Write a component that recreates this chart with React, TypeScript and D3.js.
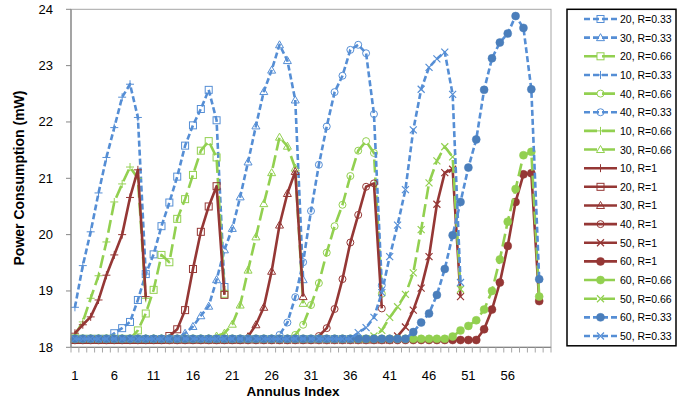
import React, { useEffect, useRef } from "react";
import * as d3 from "d3";

// x categories and axis ticks
const indices = d3.range(1, 62);
const xTickLabels = [1, 6, 11, 16, 21, 26, 31, 36, 41, 46, 51, 56];
const yTicks = [18, 19, 20, 21, 22, 23, 24];

// baseline level (flat part of every curve before its wave)
const base = 18.15;
const baseR1 = 18.13;

// each wave: first index and the values
const b20 = [18.25, 18.34, 18.45, 18.84, 19.3, 19.65, 20.15, 20.57, 21.03, 21.58, 21.94, 22.23, 22.57, 22.03, 19.07];
const b30 = [18.25, 18.37, 18.56, 18.73, 19.2, 19.73, 20.11, 20.67, 21.29, 21.93, 22.54, 22.92, 23.37, 23.09, 22.39, 19.2];
const g20 = [18.3, 18.6, 19.02, 19.64, 19.51, 20.28, 20.63, 21.06, 21.49, 21.66, 21.37, 18.95];
const b10 = [18.71, 19.45, 20.05, 20.74, 21.37, 21.9, 22.44, 22.67, 22.08, 19.3];
const g40 = [18.22, 18.4, 18.75, 19.14, 19.68, 20.15, 20.53, 21.04, 21.49, 21.66, 21.45, 18.95];
const b40 = [18.22, 18.44, 18.89, 19.51, 20.42, 21.24, 21.92, 22.53, 22.82, 23.28, 23.37, 23.22, 22.14, 19.1];
const g10 = [18.22, 18.45, 18.87, 19.27, 19.87, 20.58, 20.9, 21.2, 21.0, 18.87];
const g30 = [18.2, 18.25, 18.41, 18.75, 19.37, 19.96, 20.55, 21.1, 21.73, 21.57, 21.18, 18.78];
const r10 = [18.25, 18.4, 18.54, 18.84, 19.28, 19.64, 20.0, 20.66, 21.15, 18.9];
const r20 = [18.2, 18.32, 18.66, 19.39, 20.05, 20.5, 20.86, 18.93];
const r30 = [18.19, 18.4, 18.71, 19.35, 20.17, 20.73, 21.12, 18.9];
const r40 = [18.2, 18.34, 18.68, 19.21, 19.86, 20.35, 20.85, 20.91, 18.69];
const r50 = [18.2, 18.36, 18.66, 19.05, 19.61, 20.54, 21.1, 21.16, 18.9];
const r60 = [18.32, 18.67, 19.15, 19.8, 20.58, 21.07, 21.09, 18.82];
const g60 = [18.19, 18.3, 18.38, 18.48, 18.67, 19.0, 19.56, 20.23, 20.81, 21.41, 21.47, 18.9];
const g50 = [18.2, 18.3, 18.53, 18.72, 18.94, 19.32, 20.09, 20.92, 21.31, 21.56, 21.38, 19.03];
const b60 = [18.27, 18.44, 18.6, 18.93, 19.39, 19.99, 20.58, 21.19, 21.69, 22.57, 23.13, 23.41, 23.57, 23.88, 23.67, 22.58, 19.21];
const b50 = [18.26, 18.35, 18.53, 18.97, 19.61, 20.17, 20.8, 21.86, 22.58, 22.97, 23.12, 23.24, 22.49, 19.15];

const BLUE = "#558ED5";
const BLUE_FILL = "#4A7EBB";
const GREEN = "#92D050";
const RED = "#953735";

const styles = {
  "0.33": { color: BLUE, dash: "6,3" },
  "0.66": { color: GREEN, dash: "13,5" },
  "1": { color: RED, dash: null },
};

const series = [
  { name: "20, R=0.33", r: "0.33", marker: "square", start: 6, values: b20 },
  { name: "30, R=0.33", r: "0.33", marker: "triangle", start: 15, values: b30 },
  { name: "20, R=0.66", r: "0.66", marker: "square", start: 9, values: g20 },
  { name: "10, R=0.33", r: "0.33", marker: "plus", start: 1, values: b10 },
  { name: "40, R=0.66", r: "0.66", marker: "circle", start: 29, values: g40 },
  { name: "40, R=0.33", r: "0.33", marker: "circle", start: 27, values: b40 },
  { name: "10, R=0.66", r: "0.66", marker: "plus", start: 1, values: g10 },
  { name: "30, R=0.66", r: "0.66", marker: "triangle", start: 19, values: g30 },
  { name: "10, R=1", r: "1", marker: "plus", start: 1, values: r10 },
  { name: "20, R=1", r: "1", marker: "square", start: 13, values: r20 },
  { name: "30, R=1", r: "1", marker: "triangle", start: 23, values: r30 },
  { name: "40, R=1", r: "1", marker: "circle", start: 32, values: r40 },
  { name: "50, R=1", r: "1", marker: "cross", start: 42, values: r50 },
  { name: "60, R=1", r: "1", marker: "dot", start: 53, values: r60 },
  { name: "60, R=0.66", r: "0.66", marker: "dot", start: 49, values: g60 },
  { name: "50, R=0.66", r: "0.66", marker: "cross", start: 39, values: g50 },
  { name: "60, R=0.33", r: "0.33", marker: "dot", start: 44, values: b60 },
  { name: "50, R=0.33", r: "0.33", marker: "cross", start: 37, values: b50 },
];

// series from index 1: flat baseline, then the wave, ending at the drop
function fullSeries(s) {
  const flat = s.r === "1" ? baseR1 : base;
  const last = s.start + s.values.length - 1;
  return d3.range(1, last + 1).map((i) => {
    const k = i - s.start;
    return { i, v: k >= 0 ? s.values[k] : flat };
  });
}

function drawMarker(g, type, cx, cy, color) {
  const fill = type === "dot" ? (color === BLUE ? BLUE_FILL : color) : "none";
  if (type === "square") {
    g.append("rect").attr("x", cx - 3.5).attr("y", cy - 3.5).attr("width", 7).attr("height", 7)
      .attr("fill", "none").attr("stroke", color).attr("stroke-width", 1);
  } else if (type === "circle") {
    g.append("circle").attr("cx", cx).attr("cy", cy).attr("r", 3.5)
      .attr("fill", "none").attr("stroke", color).attr("stroke-width", 1);
  } else if (type === "dot") {
    g.append("circle").attr("cx", cx).attr("cy", cy).attr("r", 4)
      .attr("fill", fill).attr("stroke", fill).attr("stroke-width", 0.5);
  } else if (type === "triangle") {
    g.append("path").attr("d", `M${cx},${cy - 4}L${cx + 4},${cy + 3}L${cx - 4},${cy + 3}Z`)
      .attr("fill", "none").attr("stroke", color).attr("stroke-width", 1);
  } else if (type === "plus") {
    g.append("path").attr("d", `M${cx - 4},${cy}H${cx + 4}M${cx},${cy - 4}V${cy + 4}`)
      .attr("stroke", color).attr("stroke-width", 1);
  } else if (type === "cross") {
    g.append("path").attr("d", `M${cx - 3.5},${cy - 3.5}L${cx + 3.5},${cy + 3.5}M${cx - 3.5},${cy + 3.5}L${cx + 3.5},${cy - 3.5}`)
      .attr("stroke", color).attr("stroke-width", 1.2);
  }
}

export default function App() {
  const svgRef = useRef(null);
  const width = 677;
  const height = 401;

  useEffect(() => {
    const svg = d3.select(svgRef.current);
    svg.selectAll("*").remove();

    const x = d3.scaleBand().domain(indices).range([71, 551]);
    const cx = (i) => x(i) + x.bandwidth() / 2;
    const y = d3.scaleLinear().domain([18, 24]).range([347.3, 9.3]);

    const font = "'Liberation Sans', Arial, sans-serif";

    // plot area border
    svg.append("rect").attr("x", 71).attr("y", 9.3).attr("width", 480).attr("height", 338)
      .attr("fill", "white").attr("stroke", "#a6a6a6").attr("stroke-width", 1);

    // series
    const line = d3.line().x((d) => cx(d.i)).y((d) => y(d.v));
    series.forEach((s) => {
      const st = styles[s.r];
      const data = fullSeries(s);
      const g = svg.append("g");
      g.append("path").datum(data).attr("d", line).attr("fill", "none")
        .attr("stroke", st.color).attr("stroke-width", 2.6)
        .attr("stroke-dasharray", st.dash).attr("stroke-linejoin", "round");
      data.forEach((d) => drawMarker(g, s.marker, cx(d.i), y(d.v), st.color));
    });

    // y axis
    svg.append("line").attr("x1", 71).attr("x2", 71).attr("y1", 9.3).attr("y2", 347.3)
      .attr("stroke", "#868686").attr("stroke-width", 1.2);
    yTicks.forEach((t) => {
      svg.append("line").attr("x1", 66).attr("x2", 71).attr("y1", y(t)).attr("y2", y(t))
        .attr("stroke", "#868686");
      svg.append("text").attr("x", 53).attr("y", y(t) + 4.5).attr("text-anchor", "end")
        .style("font-family", font).style("font-size", "13px").attr("fill", "#000").text(t);
    });

    // x axis
    svg.append("line").attr("x1", 71).attr("x2", 551).attr("y1", 347.3).attr("y2", 347.3)
      .attr("stroke", "#868686").attr("stroke-width", 1.2);
    indices.concat([62]).forEach((i) => {
      const xx = i === 62 ? 551 : x(i);
      svg.append("line").attr("x1", xx).attr("x2", xx).attr("y1", 347.3).attr("y2", 352.5)
        .attr("stroke", "#a6a6a6");
    });
    xTickLabels.forEach((t) => {
      svg.append("text").attr("x", cx(t)).attr("y", 380).attr("text-anchor", "middle")
        .style("font-family", font).style("font-size", "13px").attr("fill", "#000").text(t);
    });

    // axis titles
    svg.append("text").attr("x", 293).attr("y", 396).attr("text-anchor", "middle")
      .style("font-family", font).style("font-size", "13.5px").style("font-weight", "bold")
      .text("Annulus Index");
    svg.append("text").attr("transform", `translate(24,178) rotate(-90)`).attr("text-anchor", "middle")
      .style("font-family", font).style("font-size", "14px").style("font-weight", "bold")
      .text("Power Consumption (mW)");

    // legend
    const lg = svg.append("g");
    lg.append("rect").attr("x", 567).attr("y", 9.3).attr("width", 109).attr("height", 336.5)
      .attr("fill", "white").attr("stroke", "#000").attr("stroke-width", 1.5);
    const ly = d3.scaleLinear().domain([0, series.length - 1]).range([19, 336]);
    series.forEach((s, k) => {
      const st = styles[s.r];
      const yy = ly(k);
      lg.append("line").attr("x1", 584).attr("x2", 617).attr("y1", yy).attr("y2", yy)
        .attr("stroke", st.color).attr("stroke-width", 2.6).attr("stroke-dasharray", st.dash);
      drawMarker(lg, s.marker, 600.5, yy, st.color);
      lg.append("text").attr("x", 620).attr("y", yy + 4)
        .style("font-family", font).style("font-size", "10.5px").attr("fill", "#000").text(s.name);
    });
  }, []);

  return (
    <svg ref={svgRef} width={width} height={height}
      style={{ position: "absolute", left: 0, top: 0, background: "white" }} />
  );
}
